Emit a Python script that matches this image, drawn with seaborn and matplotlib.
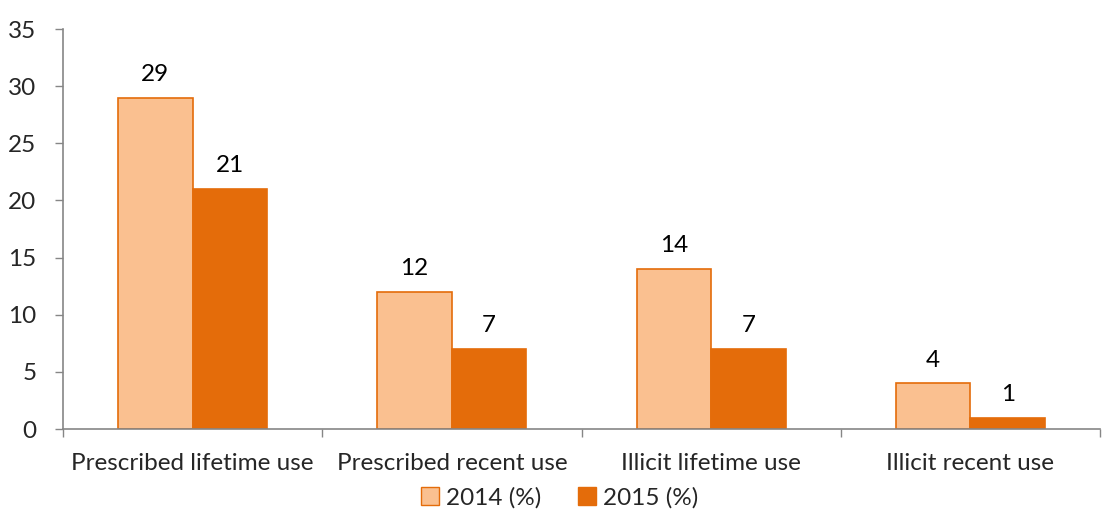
import matplotlib
matplotlib.use("Agg")
import matplotlib.pyplot as plt
from matplotlib.patches import Patch
import seaborn as sns
import pandas as pd

categories = ["Prescribed lifetime use", "Prescribed recent use",
              "Illicit lifetime use", "Illicit recent use"]
series_names = ["2014 (%)", "2015 (%)"]
values_2014 = [29, 12, 14, 4]
values_2015 = [21, 7, 7, 1]
y_ticks = [0, 5, 10, 15, 20, 25, 30, 35]

fill_colors = ["#FAC090", "#E46C0A"]
edge_color = "#E46C0A"
spine_color = "#868686"

df = pd.DataFrame({
    "category": categories * 2,
    "series": [series_names[0]] * 4 + [series_names[1]] * 4,
    "value": values_2014 + values_2015,
})

sns.set_theme(style="white")
plt.rcParams["font.family"] = ["Lato", "DejaVu Sans"]

fs = 17.5

fig = plt.figure(figsize=(11.04, 5.13), dpi=100)
ax = fig.add_axes([63 / 1104, 1 - 429 / 513, (1100 - 63) / 1104, 400 / 513])

sns.barplot(data=df, x="category", y="value", hue="series", order=categories,
            hue_order=series_names, palette=fill_colors, width=0.575,
            edgecolor=edge_color, linewidth=1.2, saturation=1, legend=False, ax=ax)

for container in ax.containers:
    ax.bar_label(container, fmt="%g", padding=9, fontsize=fs, color="black")

ax.set_ylim(0, 35)
ax.set_xlim(-0.5, 3.5)
ax.set_yticks(y_ticks)
ax.set_xlabel("")
ax.set_ylabel("")

# category tick marks sit between groups, labels sit at group centres
ax.set_xticks([i + 0.5 for i in range(-1, 4)], minor=False)
ax.set_xticklabels([])
ax.set_xticks(range(4), minor=True)
ax.set_xticklabels(categories, minor=True, fontsize=fs)
ax.tick_params(axis="x", which="major", length=6, width=1, color=spine_color,
               direction="out", bottom=True)
ax.tick_params(axis="x", which="minor", length=0, pad=17)
ax.tick_params(axis="y", length=6, width=1, color=spine_color, direction="out",
               left=True, labelsize=fs, pad=13)

for side in ["top", "right"]:
    ax.spines[side].set_visible(False)
for side in ["left", "bottom"]:
    ax.spines[side].set_color(spine_color)
    ax.spines[side].set_linewidth(1.2)

handles = [Patch(facecolor=fill_colors[0], edgecolor=edge_color, linewidth=1),
           Patch(facecolor=fill_colors[1], edgecolor=fill_colors[1], linewidth=1)]
fig.legend(handles, series_names, loc="center", ncol=2,
           bbox_to_anchor=(0.507, 0.03), frameon=False, fontsize=fs,
           handlelength=0.75, handleheight=0.75, handletextpad=0.3, columnspacing=1.5)

fig.savefig("out.png", dpi=100)
